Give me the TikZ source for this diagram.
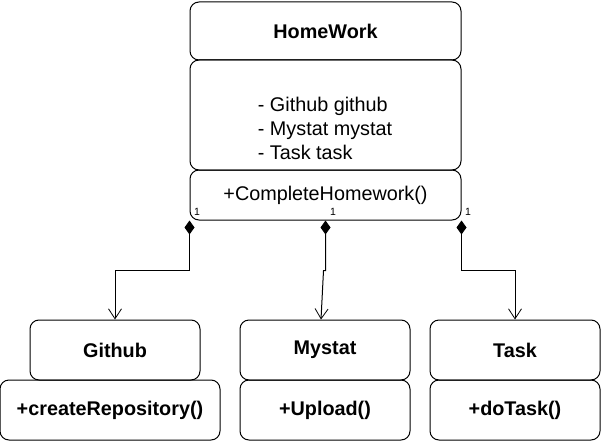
\documentclass[tikz,border=0pt]{standalone}
\usepackage{fontspec}
\setmainfont{Liberation Sans}
\usetikzlibrary{arrows.meta}

\tikzset{
    box/.style={draw, rounded corners=9pt, line width=1pt, inner sep=0pt,
        font=\fontsize{19.8}{24}\selectfont},
    boldbox/.style={box, font=\fontsize{19.8}{24}\selectfont\bfseries},
    link/.style={line width=1pt, {Diamond[length=14pt,width=10pt]}-{Straight Barb[length=10pt,width=13pt,line width=0.8pt]}},
    mult/.style={font=\fontsize{10.5}{12}\selectfont, inner sep=0pt}
}

\begin{document}
\begin{tikzpicture}[x=1pt,y=-1pt]
        \useasboundingbox (0,0) rectangle (601,441);
        \node[boldbox, minimum width=271, minimum height=58] (hwt) at (325.5,31) {HomeWork};
        \node[box, minimum width=271, minimum height=110] (hwa) at (325.5,115) {};
        \node[align=left, inner sep=0pt, font=\fontsize{19.8}{24}\selectfont] (hwatext) at (325,128) {- Github github\\- Mystat mystat\\- Task task};
        \node[box, minimum width=271, minimum height=50] (hwm) at (325.5,195) {+CompleteHomework()};
        \node[boldbox, minimum width=170, minimum height=60] (git) at (115,350) {Github};
        \node[boldbox, minimum width=220, minimum height=60] (gitm) at (110,410) {+createRepository()};
        \node[boldbox, minimum width=170, minimum height=60] (mys) at (325,350) {Mystat};
        \node[boldbox, minimum width=170, minimum height=60] (mysm) at (325,410) {+Upload()};
        \node[boldbox, minimum width=170, minimum height=60] (tsk) at (515,350) {Task};
        \node[boldbox, minimum width=170, minimum height=60] (tskm) at (515,410) {+doTask()};
        \draw[link] (hwm.south west) -- ++(0,50) -| (git.north);
        \draw[link] (hwm.south) -- ++(0,50) -- ++(-2,0) -- ([xshift=-4pt]mys.north);
        \draw[link] (hwm.south east) -- ++(0,50) -| (tsk.north);
        \node[mult] (m1) at (197,212) {1};
        \node[mult] (m2) at (333,212) {1};
        \node[mult] (m3) at (468,212) {1};
    \end{tikzpicture}
\end{document}
